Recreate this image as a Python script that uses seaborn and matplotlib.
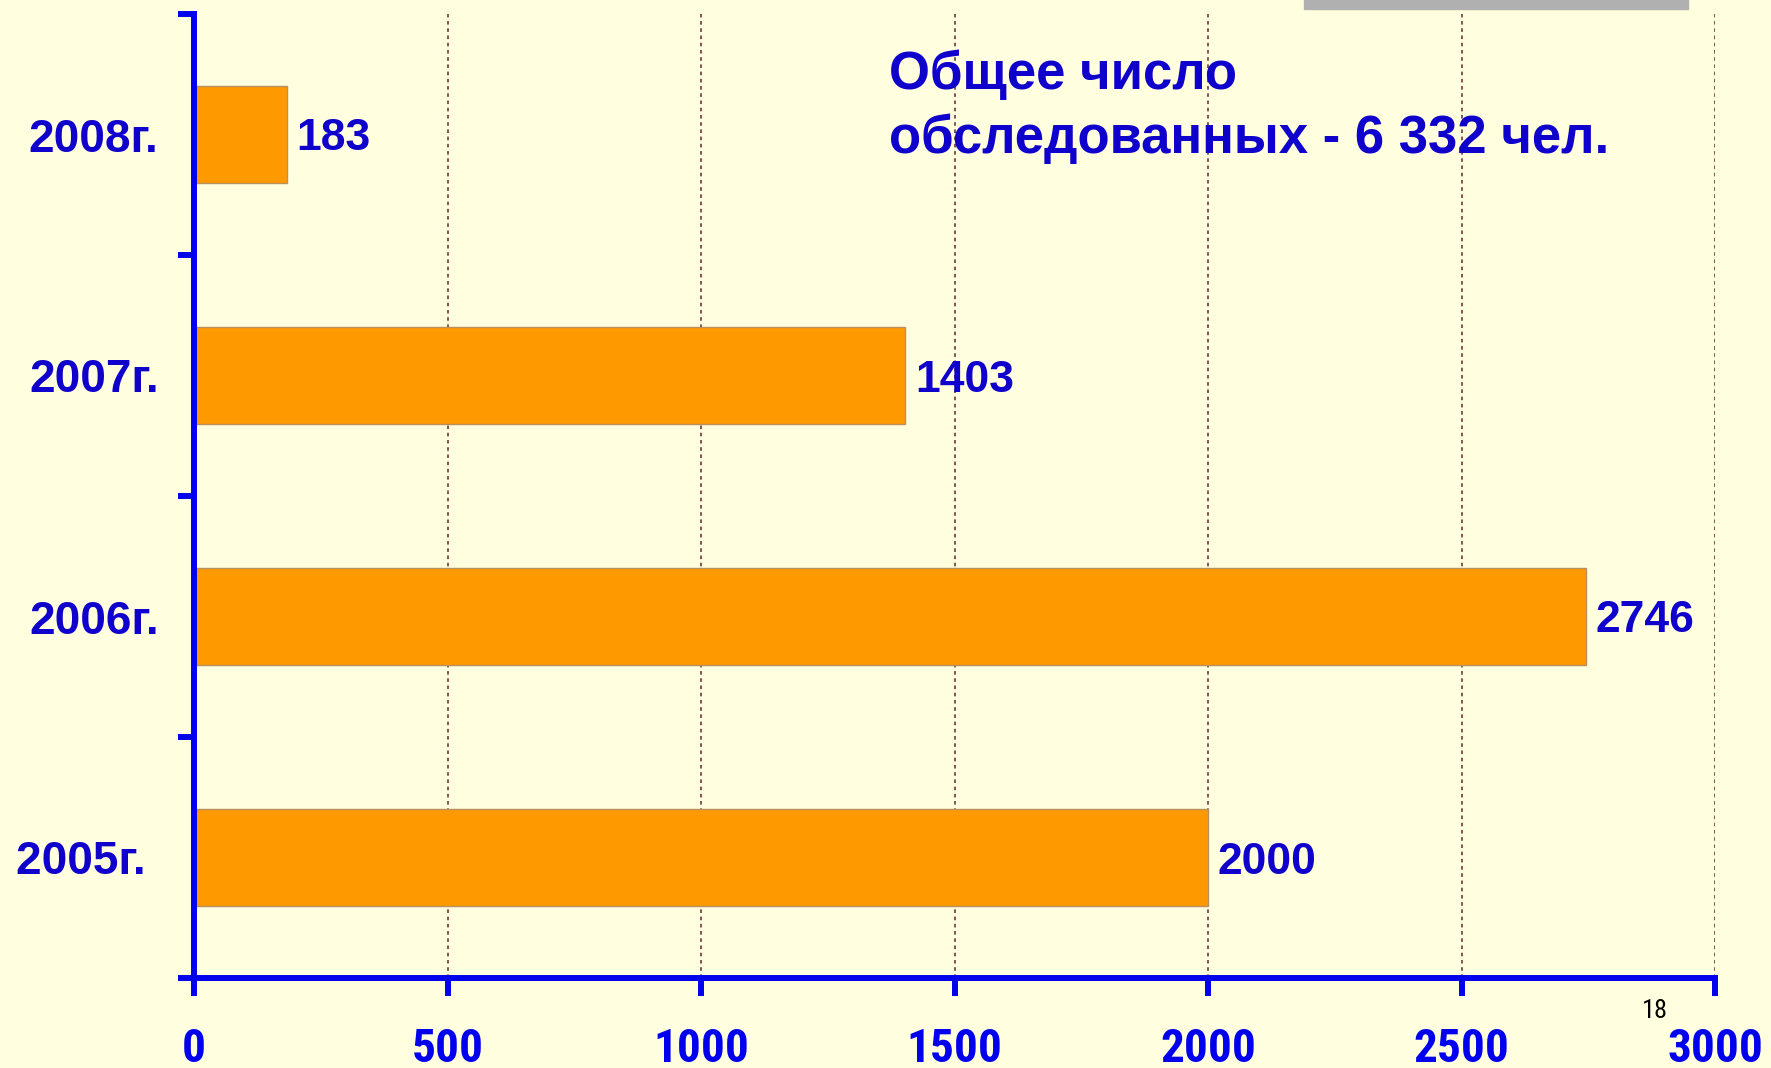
# survey counts by year - horizontal bar chart

import pandas as pd
import matplotlib
matplotlib.use('Agg')
from matplotlib import pyplot as plt
from matplotlib.patches import Rectangle
import seaborn as sns

# data
years = ['2008г.', '2007г.', '2006г.', '2005г. ']
counts = [183, 1403, 2746, 2000]
x_ticks = [0, 500, 1000, 1500, 2000, 2500, 3000]
title_lines = ['Общее число', 'обследованных - 6 332 чел.']
page_no = '18'

BG = '#ffffe0'
BLUE = '#0000ee'
TEXT_BLUE = '#1000cc'
ORANGE = '#ff9900'
GRID = '#7a4848'
NARROW = ['Liberation Sans Narrow', 'DejaVu Sans Condensed', 'Roboto Condensed', 'Liberation Sans']

W, H, DPI = 1771, 1068, 100


def bar_chart( name = 'out.png' ):
    """
    Horizontal bars, Excel-like slide style.
    """
    plt.rcParams['font.family'] = ['Liberation Sans', 'DejaVu Sans']

    fig = plt.figure( figsize = (W / DPI, H / DPI), dpi = DPI, facecolor = BG )
    # axes box in pixels: x 194..1715, y 14..978 (from top)
    ax = fig.add_axes( [194 / W, (H - 978) / H, (1715 - 194) / W, (978 - 14) / H] )
    ax.set_facecolor( BG )

    df = pd.DataFrame( {'year': years, 'count': counts} )
    sns.barplot( data = df, x = 'count', y = 'year', orient = 'h', order = years,
                 color = ORANGE, saturation = 1, width = 0.4, errorbar = None,
                 edgecolor = '#b89060', linewidth = 1, ax = ax, zorder = 3 )

    ax.set_xlim( 0, 3000 )
    ax.set_ylim( 3.5, -0.5 )
    ax.set_xlabel( '' )
    ax.set_ylabel( '' )

    # spines
    for s in ['top', 'right']:
        ax.spines[s].set_visible( False )
    for s in ['left', 'bottom']:
        ax.spines[s].set_color( BLUE )
        ax.spines[s].set_linewidth( 4.3 )
        ax.spines[s].set_zorder( 5 )

    # x axis
    ax.set_xticks( x_ticks )
    ax.set_xticklabels( [str(t) for t in x_ticks] )
    ax.tick_params( axis = 'x', which = 'major', length = 13, width = 4.3, color = BLUE,
                    direction = 'out', pad = 22, labelsize = 34, labelcolor = BLUE )
    for lab in ax.get_xticklabels():
        lab.set_family( NARROW )
        lab.set_fontweight( 'bold' )

    # y axis: labels at bars, tick marks between categories
    ax.set_yticks( range(len(years)) )
    ax.set_yticklabels( years )
    ax.set_yticks( [-0.5, 0.5, 1.5, 2.5, 3.5], minor = True )
    ax.tick_params( axis = 'y', which = 'major', length = 0, pad = 25.5,
                    labelsize = 33, labelcolor = TEXT_BLUE )
    ax.tick_params( axis = 'y', which = 'minor', length = 11.5, width = 4.3, color = BLUE,
                    direction = 'out' )
    for lab in ax.get_yticklabels():
        lab.set_fontweight( 'bold' )
        lab.set_verticalalignment( 'center_baseline' )

    # grid
    ax.grid( False )
    for t in x_ticks[1:]:
        ax.axvline( t, color = GRID, linewidth = 1.3, linestyle = (0, (2, 2)), zorder = 1 )

    # value labels
    anns = ax.bar_label( ax.containers[0], labels = [str(v) for v in counts], padding = 7,
                         fontsize = 32, fontweight = 'bold', color = TEXT_BLUE )
    for a in anns:
        a.set_verticalalignment( 'center_baseline' )

    # title text
    fig.text( 889 / W, (H - 89) / H, title_lines[0], fontsize = 38, fontweight = 'bold',
              color = TEXT_BLUE, ha = 'left', va = 'baseline' )
    fig.text( 889 / W, (H - 153) / H, title_lines[1], fontsize = 38, fontweight = 'bold',
              color = TEXT_BLUE, ha = 'left', va = 'baseline' )

    # slide decorations
    fig.patches.append( Rectangle( (1304 / W, (H - 9) / H), (1688 - 1304) / W, 9 / H,
                                   transform = fig.transFigure, color = '#b0b0b0' ) )
    fig.text( 1655 / W, (H - 1011) / H, page_no, fontsize = 19, color = 'black',
              family = NARROW, ha = 'center', va = 'center' )

    plt.savefig( name, dpi = DPI, facecolor = BG )


if __name__ == '__main__':
    bar_chart( 'out.png' )
